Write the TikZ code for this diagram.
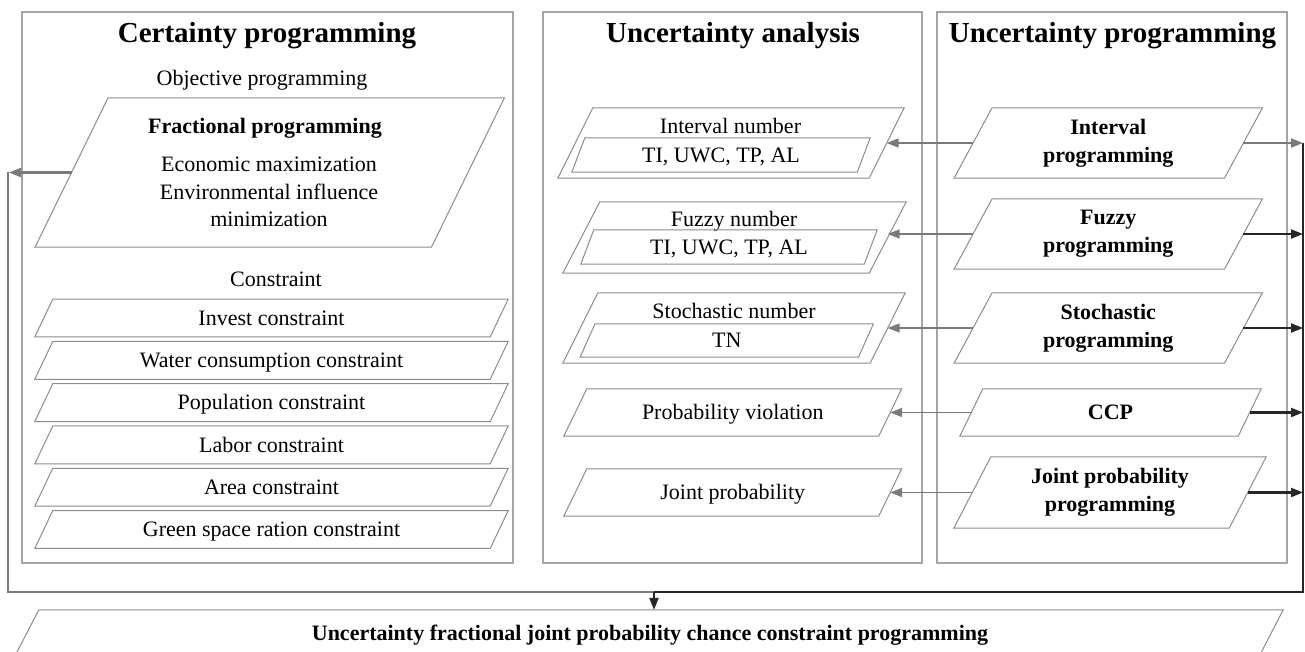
\documentclass[tikz,border=0pt]{standalone}
\usepackage{fontspec}
\setmainfont{Liberation Serif}
\usetikzlibrary{arrows.meta,calc}

\definecolor{panelgray}{HTML}{A6A6A6}
\definecolor{shapegray}{HTML}{8C8C8C}
\definecolor{linkgray}{HTML}{7A7A7A}
\definecolor{linkdark}{HTML}{262626}

\tikzset{
  panel/.style={draw=panelgray, line width=1.1pt, inner sep=0pt},
  title/.style={font=\fontsize{29}{34}\selectfont\bfseries, inner sep=0pt, anchor=base},
  txt/.style={font=\fontsize{22}{27}\selectfont, inner sep=0pt, anchor=base},
  btxt/.style={font=\fontsize{22}{27}\selectfont\bfseries, inner sep=0pt, anchor=base},
  one/.style={font=\fontsize{22}{27}\selectfont, text height=14.6pt, text depth=0pt},
  bone/.style={font=\fontsize{22}{27}\selectfont\bfseries, text height=14.6pt, text depth=0pt},
  two/.style={font=\fontsize{22}{28}\selectfont\bfseries, align=center},
  pshape/.style={draw=shapegray, line width=1pt},
  tip/.style={-{Triangle[length=12pt,width=9pt]}},
  glink/.style={draw=linkgray, line width=1.6pt, tip},
  gbus/.style={draw=linkgray, line width=2.4pt},
  dlink/.style={draw=linkdark, line width=2.2pt, tip},
  dbus/.style={draw=linkdark, line width=2.4pt},
}

% \para[options]{name}{x}{y}{mid width}{height}{slant}{text}
\newcommand\para[8][]{%
  \node[inner sep=0pt, minimum width=#5pt, minimum height=#6pt, #1] (#2) at (#3,#4) {#8};
  \draw[pshape] ($(#2.south west)+(-#7/2,0)$) -- ($(#2.south east)+(-#7/2,0)$)
     -- ($(#2.north east)+(#7/2,0)$) -- ($(#2.north west)+(#7/2,0)$) -- cycle;
}

\begin{document}
\begin{tikzpicture}[x=1pt,y=-1pt]
\useasboundingbox (0,0) rectangle (1305,652);
\clip (0,0) rectangle (1305,652);

% ---- three panels ----
\node[panel, minimum width=491pt, minimum height=551pt] (cert) at (267.5,287.5) {};
\node[panel, minimum width=379pt, minimum height=551pt] (ana)  at (732.5,287.5) {};
\node[panel, minimum width=350pt, minimum height=551pt] (unc)  at (1112,287.5) {};

\node[title] (t1) at (267,43) {Certainty programming};
\node[title] (t2) at (733,43) {Uncertainty analysis};
\node[title] (t3) at (1112.5,43) {Uncertainty programming};

% ---- certainty programming ----
\node[txt] (obj) at (262,86) {Objective programming};
\para{frac}{269.75}{172.5}{396}{149}{73}{}
\node[btxt] (fract) at (265,133.3) {Fractional programming};
\node[txt] (eco) at (269,171.7) {Economic maximization};
\node[txt] (env) at (269,199.3) {Environmental influence};
\node[txt] (mini) at (269,226) {minimization};

\node[txt] (cons) at (276,286.7) {Constraint};
\para[one]{c1}{271.5}{318}{455}{37.5}{18}{Invest constraint}
\para[one]{c2}{271.5}{360.3}{455}{37.5}{18}{Water consumption constraint}
\para[one]{c3}{271.5}{402.6}{455}{37.5}{18}{Population constraint}
\para[one]{c4}{271.5}{444.9}{455}{37.5}{18}{Labor constraint}
\para[one]{c5}{271.5}{487.2}{455}{37.5}{18}{Area constraint}
\para[one]{c6}{271.5}{529.5}{455}{37.5}{18}{Green space ration constraint}

% ---- uncertainty analysis ----
\para{inum}{731}{143}{311}{70}{35}{}
\node[txt] (inumt) at (730.5,133.3) {Interval number};
\para[one]{iin}{721}{155}{285}{34}{13}{TI, UWC, TP, AL}

\para{fnum}{734.5}{237.5}{306}{71}{37}{}
\node[txt] (fnumt) at (734,226.7) {Fuzzy number};
\para[one]{fin}{729}{247}{283}{34}{13}{TI, UWC, TP, AL}

\para{snum}{734}{328}{307}{70}{35}{}
\node[txt] (snumt) at (734,318.3) {Stochastic number};
\para[one]{sin}{726.75}{340.5}{278}{33}{15}{TN}

\para[one]{pv}{732.75}{412.5}{314.5}{47}{23}{Probability violation}
\para[one]{jp}{732.75}{492.5}{314.5}{47}{23}{Joint probability}

% ---- uncertainty programming ----
\para[two]{ip}{1108.25}{143}{270}{70}{38}{Interval\\programming}
\para[two]{fp}{1108.25}{234}{270}{70}{38}{Fuzzy\\programming}
\para[two]{sp}{1108.25}{328}{270}{70}{38}{Stochastic\\programming}
\para[bone]{ccp}{1110.5}{412.5}{278}{47}{23}{CCP}
\para[two]{jpp}{1110}{492.5}{275}{71}{37}{Joint probability\\programming}

% ---- combined model ----
\para{final}{648}{635}{1244}{50}{26}{}
\node[btxt] (finalt) at (650,640) {Uncertainty fractional joint probability chance constraint programming};

% ---- links from programming methods to uncertainty types ----
\draw[glink] (ip.west) -- (inum.east);
\draw[glink] (fp.west) -- (fnum.east |- fp.west);
\draw[glink] (sp.west) -- (snum.east);
\draw[glink] (ccp.west) -- (pv.east);
\draw[glink] (jpp.west) -- (jp.east);

% ---- collecting lines ----
\coordinate (lx) at (8,0);
\coordinate (rx) at (1303,0);
\coordinate (join) at (654,592);
\coordinate (lbot) at (8,592);
\coordinate (rbot) at (1303,592);

\draw[gbus] (frac.west -| lx) -- (lbot) -- (join);
\draw[glink, line width=2.2pt] (frac.west) -- ([xshift=1pt]frac.west -| lx);

\draw[dbus] (ip.east -| rx) -- (rbot) -- (join);
\draw[glink, line width=2.2pt] (ip.east) -- (ip.east -| rx);
\draw[dlink] (fp.east) -- (fp.east -| rx);
\draw[dlink] (sp.east) -- (sp.east -| rx);
\draw[dlink] (ccp.east) -- (ccp.east -| rx);
\draw[dlink] (jpp.east) -- (jpp.east -| rx);

\draw[dlink] (join) -- (join |- final.north);
\end{tikzpicture}
\end{document}
